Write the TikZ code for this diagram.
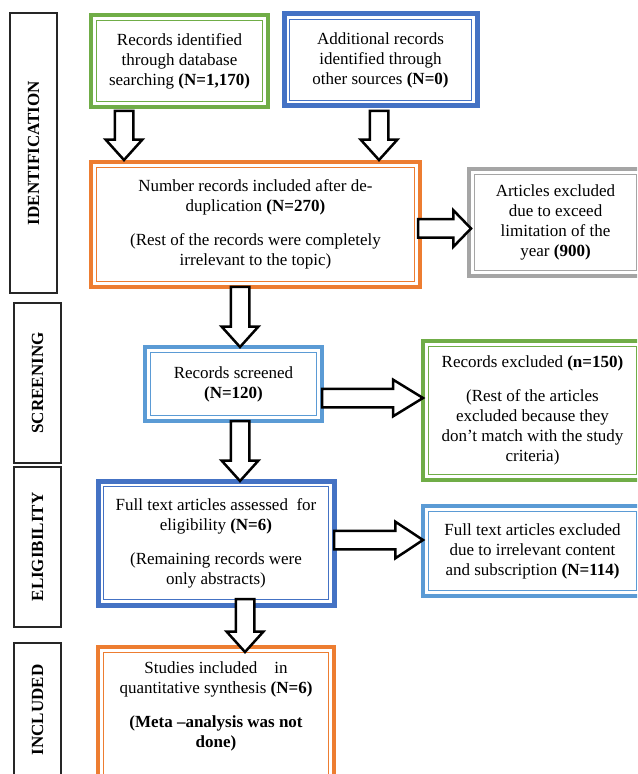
\documentclass[tikz,border=0pt]{standalone}
\usepackage{fontspec}
\setmainfont{Liberation Serif}
\usepackage{tikz}
\usetikzlibrary{calc,shapes.arrows}
\definecolor{prgreen}{RGB}{112,173,71}
\definecolor{prblue}{RGB}{68,114,196}
\definecolor{prorange}{RGB}{237,125,49}
\definecolor{prgray}{RGB}{165,165,165}
\definecolor{prlightblue}{RGB}{91,155,213}

\begin{document}
\begin{tikzpicture}[
  x=0.5pt, y=-0.5pt,
  every node/.style={align=center, font=\fontsize{8.5}{10}\selectfont, inner sep=0pt, outer sep=0pt},
  phase/.style={draw=black!85, line width=0.6pt, font=\fontsize{8.5}{10}\selectfont\bfseries, minimum height=23.5pt, rotate=90},
  stage/.style={draw=#1, line width=2pt},
  hollow/.style={single arrow, draw=black, fill=white, line width=1.25pt, inner xsep=0pt, inner ysep=4pt,
    single arrow head extend=4.5pt, sloped, allow upside down, pos=0, anchor=tail}
]
\useasboundingbox (0,0) rectangle (637,774);
\clip (0,0) rectangle (637,774);

% phases
\node[phase, minimum width=140pt] (idlbl) at (33.5,153) {IDENTIFICATION};
\node[phase, minimum width=80pt] (scrlbl) at (37.5,383) {SCREENING};
\node[phase, minimum width=80pt] (elilbl) at (37.5,547) {ELIGIBILITY};
\node[phase, minimum width=67pt] (inclbl) at (37.5,710) {INCLUDED};

% boxes
\node[stage=prgreen, minimum width=88.5pt, minimum height=46pt] (dbrec) at (179.5,61)
  {Records identified\\ through database\\ searching \textbf{(N=1,170)}};
\node[stage=prblue, line width=2.5pt, minimum width=96.5pt, minimum height=46pt] (othrec) at (380.5,60)
  {Additional records\\ identified through\\ other sources \textbf{(N=0)}};
\node[stage=prorange, minimum width=164.5pt, minimum height=62.5pt] (dedup) at (255.5,224.5)
  {Number records included after de-\\duplication \textbf{(N=270)}\\[7pt]
   (Rest of the records were completely\\ irrelevant to the topic)};
\node[stage=prgray, minimum width=86.5pt, minimum height=53.5pt] (yearex) at (555.5,222.5)
  {Articles excluded\\ due to exceed\\ limitation of the\\ year \textbf{(900)}};
\node[stage=prlightblue, minimum width=88.5pt, minimum height=37pt] (screened) at (233.5,384)
  {Records screened\\ \textbf{(N=120)}};
\node[stage=prgreen, minimum width=109.5pt, minimum height=69.5pt] (recex) at (532.5,410.5)
  {Records excluded \textbf{(n=150)}\\[7pt] (Rest of the articles\\ excluded because they\\
   don't match with the study\\ criteria)};
\node[stage=prblue, line width=2.5pt, minimum width=118pt, minimum height=62pt] (fulltext) at (216,543)
  {Full text articles assessed~ for\\ eligibility \textbf{(N=6)}\\[7pt]
   (Remaining records were\\ only abstracts)};
\node[stage=prlightblue, minimum width=109.5pt, minimum height=45pt] (fullex) at (532.5,551)
  {Full text articles excluded\\ due to irrelevant content\\ and subscription \textbf{(N=114)}};
\node[stage=prorange, minimum width=118pt, minimum height=76.5pt] (studies) at (216,723.5)
  {Studies included\quad in\\ quantitative synthesis \textbf{(N=6)}\\[7pt]
   \textbf{(Meta --analysis was not}\\ \textbf{done)}\rule[-19pt]{0pt}{0pt}};

% inner frames
\foreach \n/\c in {dbrec/prgreen, othrec/prblue, dedup/prorange, yearex/prgray, screened/prlightblue,
                  recex/prgreen, fulltext/prblue, fullex/prlightblue, studies/prorange}
  \draw[\c, line width=0.5pt] ([shift={(2.6pt,-2.6pt)}]\n.north west) rectangle ([shift={(-2.6pt,2.6pt)}]\n.south east);

% arrows
\coordinate (a1) at ($(dbrec.south west)+(33,4)$);
\coordinate (b1) at ($(a1 |- dedup.north)+(0,-2)$);
\coordinate (a2) at ($(othrec.south west)+(95,5)$);
\coordinate (b2) at ($(a2 |- dedup.north)+(0,-2)$);
\coordinate (a3) at ($(dedup.south west)+(149,0)$);
\coordinate (b3) at (a3 |- screened.north);
\coordinate (a4) at ($(screened.south west)+(95,0)$);
\coordinate (b4) at (a4 |- fulltext.north);
\coordinate (a5) at ($(fulltext.south west)+(147,-6)$);
\coordinate (b5) at ($(a5 |- studies.north)+(0,5)$);
\coordinate (a6) at ($(dedup.east)+(-2,4)$);
\coordinate (b6) at ($(a6 -| yearex.west)+(2,0)$);
\coordinate (a7) at ($(screened.east)+(0,14)$);
\coordinate (b7) at (a7 -| recex.west);
\coordinate (a8) at ($(fulltext.east)+(0,-3)$);
\coordinate (b8) at (a8 -| fullex.west);

\foreach \s/\t/\tip in {a1/b1/84, a2/b2/84, a3/b3/84, a4/b4/84, a5/b5/84, a6/b6/92, a7/b7/63, a8/b8/67}
  \path let \p1=(\s), \p2=(\t), \n1={veclen(\x2-\x1,\y2-\y1)} in
    (\s) -- node[hollow, minimum height=\n1, single arrow tip angle=\tip] {} (\t);
\end{tikzpicture}
\end{document}
